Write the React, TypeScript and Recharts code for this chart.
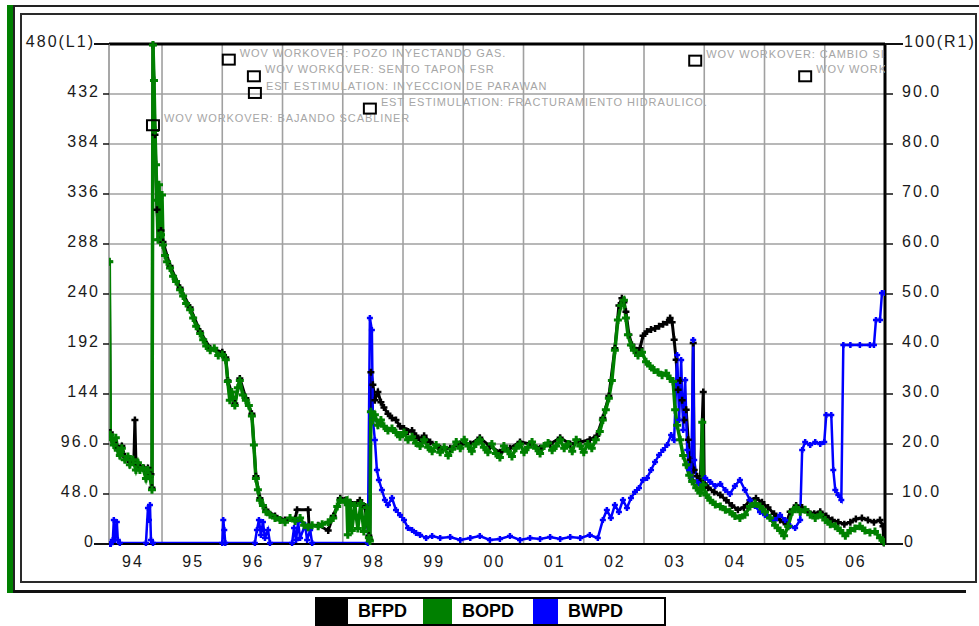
import React from 'react';
import { ComposedChart, Line, Scatter, XAxis, YAxis, CartesianGrid, ReferenceLine } from 'recharts';

type Pt = [number, number];

// time axis: months since Jan 1994
const yearLabels = ['94', '95', '96', '97', '98', '99', '00', '01', '02', '03', '04', '05', '06'];
const yearMid = [6, 18, 30, 42, 54, 66, 78, 90, 102, 114, 126, 138, 150];
const yearBounds = [12, 24, 36, 48, 60, 72, 84, 96, 108, 120, 132, 144];
const leftTicks = [0, 48, 96, 144, 192, 240, 288, 336, 384, 432, 480];
const rightTicks = [0, 10, 20, 30, 40, 50, 60, 70, 80, 90, 100];

// BOPD (left axis)
const bopd: Pt[] = [
  [1.5, 271], [1.7, 105], [2.0, 100], [2.4, 95], [2.8, 102], [3.2, 90], [3.6, 85], [4.0, 92], [4.6, 81], [5.2, 84],
  [5.6, 76], [6.2, 81], [6.8, 71], [7.2, 78], [7.6, 71], [8.2, 73], [8.8, 63], [9.2, 71], [9.6, 65], [10.0, 52],
  [10.2, 479], [10.4, 445], [10.6, 397], [10.8, 364], [11.0, 330], [11.2, 292], [11.4, 345], [11.6, 316], [11.8, 297],
  [12.0, 335], [12.2, 287], [12.6, 277], [13.0, 271], [13.6, 265], [14.2, 257], [14.8, 252], [15.6, 244], [16.2, 238],
  [16.8, 231], [17.6, 225], [18.2, 217], [18.8, 209], [19.6, 202], [20.2, 196], [20.8, 190], [21.6, 186], [22.4, 188],
  [23.2, 181], [24.0, 182], [24.7, 177], [25.1, 156], [25.5, 138], [25.9, 146], [26.5, 133], [27.1, 150], [27.5, 157],
  [28.1, 143], [28.7, 138], [29.3, 133], [29.9, 123], [30.3, 95], [30.7, 63], [31.1, 52], [31.5, 42], [32.1, 37],
  [32.7, 31], [33.5, 28], [34.5, 25], [35.5, 23], [36.5, 21], [37.5, 25], [38.5, 22], [39.5, 25], [40.3, 18],
  [41.1, 16], [41.9, 18], [43.1, 17], [43.9, 19], [45.1, 21], [46.1, 25], [46.9, 36], [47.5, 42], [48.5, 40],
  [48.8, 42], [49.0, 9], [49.5, 39], [49.8, 13], [50.4, 37], [51.0, 15], [51.6, 39], [52.2, 12], [52.8, 35],
  [53.2, 6], [53.4, 3], [53.6, 127], [54.0, 119], [54.4, 124], [55.0, 114], [55.6, 119], [56.2, 113], [57.0, 109],
  [57.8, 111], [58.6, 107], [59.4, 103], [60.2, 107], [61.0, 100], [61.8, 103], [62.6, 97], [63.4, 94], [64.2, 100],
  [65.0, 93], [65.8, 89], [66.6, 95], [67.4, 88], [68.2, 93], [69.0, 85], [69.8, 91], [70.6, 98], [71.4, 92],
  [72.2, 100], [73.0, 94], [73.7, 89], [74.5, 96], [75.3, 100], [76.1, 93], [76.9, 88], [77.7, 96], [78.5, 87],
  [79.3, 83], [80.1, 94], [80.9, 89], [81.7, 84], [82.5, 92], [83.3, 96], [84.1, 88], [84.9, 93], [85.7, 98],
  [86.5, 92], [87.3, 87], [88.1, 94], [88.9, 97], [89.7, 90], [90.5, 94], [91.3, 100], [92.1, 92], [92.9, 96],
  [93.7, 89], [94.5, 100], [95.3, 94], [96.0, 88], [96.8, 96], [97.6, 92], [98.4, 100], [99.2, 108], [99.8, 119],
  [100.4, 129], [101.0, 140], [101.6, 157], [102.2, 186], [102.8, 215], [103.4, 229], [104.0, 234], [104.4, 217],
  [104.8, 201], [105.4, 191], [106.0, 186], [106.8, 181], [107.6, 184], [108.4, 175], [109.2, 171], [110.0, 167],
  [110.8, 165], [111.6, 162], [112.4, 164], [113.2, 159], [113.8, 156], [114.2, 129], [114.6, 114], [115.2, 100],
  [115.8, 85], [116.4, 76], [117.0, 66], [117.6, 60], [118.4, 54], [119.2, 49], [119.4, 52], [119.6, 117],
  [119.8, 57], [120.4, 47], [121.2, 42], [122.2, 38], [123.2, 36], [124.2, 33], [125.1, 31], [126.1, 27],
  [127.1, 25], [128.1, 28], [129.1, 36], [130.1, 39], [131.1, 36], [132.1, 31], [133.1, 25], [134.1, 18],
  [135.1, 13], [135.9, 8], [136.7, 17], [137.5, 31], [138.3, 35], [139.1, 31], [140.1, 33], [141.1, 28],
  [142.1, 25], [143.1, 28], [144.1, 23], [145.1, 19], [146.1, 17], [147.1, 13], [148.1, 8], [149.1, 13],
  [150.0, 15], [151.0, 17], [152.0, 13], [153.0, 11], [154.0, 12], [155.0, 6], [155.8, 2],
];

// BFPD (left axis)
const bfpd: Pt[] = [
  [1.5, 271], [1.7, 107], [2.4, 98], [3.2, 92], [4.0, 94], [4.6, 84], [5.6, 79], [6.4, 81], [6.6, 119], [6.8, 79],
  [7.6, 75], [8.4, 73], [9.2, 73], [9.8, 67], [10.0, 54], [10.2, 479], [10.6, 393], [11.0, 321], [11.4, 292],
  [11.8, 301], [12.2, 290], [13.6, 267], [15.6, 246], [17.6, 227], [19.6, 204], [21.6, 188], [24.0, 184],
  [24.7, 179], [25.1, 157], [26.5, 135], [27.5, 159], [28.7, 140], [29.9, 125], [30.7, 65], [31.5, 44], [32.7, 33],
  [34.5, 27], [36.5, 23], [38.5, 24], [38.9, 33], [41.1, 33], [41.3, 17], [43.1, 18], [45.1, 13], [46.1, 27],
  [47.5, 44], [48.5, 42], [49.5, 40], [50.4, 38], [51.4, 42], [52.4, 36], [53.2, 8], [53.4, 4], [53.6, 165],
  [54.0, 153], [54.4, 138], [55.0, 146], [55.6, 136], [56.2, 131], [57.0, 125], [57.8, 121], [58.6, 119],
  [59.4, 113], [60.2, 111], [61.0, 108], [61.8, 109], [62.6, 104], [63.4, 100], [64.2, 104], [65.4, 98],
  [67.4, 92], [69.4, 92], [71.4, 96], [73.4, 96], [75.3, 102], [77.3, 94], [79.3, 88], [81.3, 92], [83.3, 98],
  [85.3, 96], [87.3, 92], [89.3, 96], [91.3, 102], [93.3, 96], [95.3, 98], [97.2, 100], [98.6, 104], [99.8, 121],
  [101.0, 142], [102.2, 188], [103.0, 229], [103.6, 236], [104.0, 232], [104.4, 223], [105.0, 201], [105.6, 191],
  [106.4, 186], [107.2, 188], [107.8, 200], [108.6, 204], [109.4, 206], [110.2, 207], [111.0, 209], [111.8, 211],
  [112.6, 213], [113.2, 217], [113.6, 213], [114.0, 196], [114.4, 177], [114.8, 148], [115.2, 157], [115.6, 138],
  [116.0, 119], [116.4, 129], [116.8, 100], [117.2, 81], [117.6, 61], [117.8, 193], [118.0, 71], [118.6, 65],
  [119.2, 60], [119.8, 146], [120.0, 58], [120.8, 54], [122.0, 50], [123.2, 47], [124.4, 42], [125.5, 37],
  [126.7, 33], [127.9, 35], [129.1, 42], [130.3, 44], [131.5, 40], [132.7, 35], [133.9, 29], [135.1, 23],
  [136.3, 19], [137.1, 31], [138.3, 37], [139.5, 35], [140.7, 31], [141.9, 29], [143.1, 31], [144.3, 27],
  [145.5, 23], [146.7, 21], [147.9, 19], [149.1, 21], [150.2, 24], [151.4, 25], [152.6, 23], [153.8, 21],
  [155.0, 23], [155.6, 17], [155.8, 1],
];

// BWPD (right axis)
const bwpd: Pt[] = [
  [1.5, 0], [1.8, 0], [2.2, 0.8], [2.4, 4.8], [2.6, 0.8], [3.0, 4.4], [3.2, 0.8], [3.6, 0.2], [8.8, 0.2],
  [9.2, 7.2], [9.4, 4.8], [9.6, 7.8], [9.8, 0.8], [10.2, 0.2], [24.0, 0.2], [24.2, 4.8], [24.4, 2.8], [24.6, 0.2],
  [30.5, 0.2], [30.9, 2.8], [31.3, 4.8], [31.7, 1.8], [32.1, 4.4], [32.5, 1.2], [33.1, 2.8], [33.5, 0.2],
  [37.9, 0.2], [38.3, 3.2], [38.7, 0.8], [39.1, 4.4], [39.5, 1.2], [40.5, 3.8], [40.9, 0.8], [41.5, 2.8],
  [41.9, 0.2], [53.0, 0.2], [53.4, 45.2], [53.8, 42.8], [54.0, 24.8], [54.4, 20.8], [54.8, 14.8], [55.2, 12.8],
  [55.8, 10.8], [56.4, 8.8], [57.0, 7.8], [57.8, 9.2], [58.6, 6.8], [59.4, 5.8], [60.2, 4.8], [61.0, 3.2],
  [61.8, 2.8], [62.6, 2.2], [63.4, 1.8], [64.6, 1.2], [65.8, 1.6], [67.4, 1.2], [69.4, 1.4], [71.4, 0.8],
  [73.4, 1.2], [75.3, 1.6], [77.3, 0.8], [79.3, 1.0], [81.3, 1.6], [83.3, 0.8], [85.3, 1.2], [87.3, 1.0],
  [89.3, 1.4], [91.3, 1.0], [93.3, 1.4], [95.3, 1.2], [97.2, 1.8], [98.8, 1.2], [99.8, 4.8], [100.6, 6.8],
  [101.4, 5.2], [102.2, 7.8], [103.0, 6.4], [103.8, 8.8], [104.6, 7.2], [105.4, 9.2], [106.2, 10.4], [107.0, 11.2],
  [107.8, 12.8], [108.6, 13.2], [109.4, 14.8], [110.2, 16.4], [111.0, 17.8], [111.8, 18.8], [112.6, 19.8],
  [113.4, 21.8], [114.0, 20.8], [114.6, 37.8], [115.0, 24.8], [115.4, 36.8], [115.8, 22.8], [116.2, 32.8],
  [116.6, 18.8], [117.0, 14.8], [117.4, 13.2], [117.8, 40.8], [118.0, 16.8], [118.6, 12.4], [119.2, 11.8],
  [120.2, 13.2], [121.2, 12.4], [122.2, 11.6], [123.2, 12.0], [124.2, 10.8], [125.1, 10.0], [126.1, 11.6],
  [127.1, 12.8], [128.1, 10.8], [129.1, 8.8], [130.1, 7.6], [131.1, 6.4], [132.1, 5.8], [133.1, 5.2],
  [134.1, 4.8], [135.1, 5.8], [136.1, 4.8], [137.1, 3.6], [138.1, 3.2], [139.1, 4.8], [139.5, 18.8],
  [140.1, 20.4], [141.1, 19.8], [142.1, 20.4], [143.1, 20.0], [143.9, 20.4], [144.3, 25.8], [145.3, 25.8],
  [145.7, 14.8], [146.1, 10.8], [146.7, 9.8], [147.3, 8.8], [147.7, 39.8], [149.1, 39.8], [151.0, 39.8],
  [153.0, 39.8], [153.8, 39.8], [154.2, 44.8], [155.0, 44.8], [155.4, 50.2], [156.0, 50.2],
];

// event markers (left axis)
const eventT = [10.2, 25.3, 30.3, 30.5, 53.4, 118.2, 140.1];
const eventV = [402, 465, 449, 433, 418, 464, 449];
const eventLabels = [
  'WOV WORKOVER: BAJANDO SCABLINER',
  'WOV WORKOVER: POZO INYECTANDO GAS.',
  'WOV WORKOVER: SENTO TAPON FSR',
  'EST ESTIMULATION: INYECCION DE PARAWAN',
  'EST ESTIMULATION: FRACTURAMIENTO HIDRAULICO.',
  'WOV WORKOVER: CAMBIO SISTEMA',
  'WOV WORKOVER',
];

const toRows = (pts: Pt[]) => pts.map(([t, v]) => ({ t, v }));
const bopdRows = toRows(bopd);
const bfpdRows = toRows(bfpd);
const bwpdRows = toRows(bwpd);
const eventRows = eventT.map((t, i) => ({ t, v: eventV[i], label: eventLabels[i] }));

const FONT = '"Liberation Sans", Arial, Helvetica, sans-serif';
const GREEN = '#008000';
const BLUE = '#0000ff';
const PLOT_L = 109;
const PLOT_R = 885;

const leftFmt = (v: number) => (v === 480 ? '480(L1)' : v === 0 ? '0' : v < 100 ? v.toFixed(1) : String(v));
const rightFmt = (v: number) => (v === 100 ? '100(R1)' : v === 0 ? '0' : v.toFixed(1));

function LeftTick(props: any) {
  const { y, payload } = props;
  const v = payload.value;
  const edge = v === 0 || v === 480;
  return (
    <g>
      <line x1={edge ? 94 : 103} x2={PLOT_L} y1={y} y2={y} stroke="#111" strokeWidth={edge ? 2 : 1.5} />
      <text x={edge ? 95 : 100} y={y + 3} textAnchor="end" fontFamily={FONT} fontSize={16} letterSpacing={2} fill="#1a1a1a">
        {leftFmt(v)}
      </text>
    </g>
  );
}

function RightTick(props: any) {
  const { y, payload } = props;
  const v = payload.value;
  const edge = v === 0 || v === 100;
  return (
    <g>
      <line x1={PLOT_R} x2={edge ? 903 : 893} y1={y} y2={y} stroke="#111" strokeWidth={edge ? 2 : 1.5} />
      <text x={edge ? 904 : 902} y={y + 3} textAnchor="start" fontFamily={FONT} fontSize={16} letterSpacing={2} fill="#1a1a1a">
        {rightFmt(v)}
      </text>
    </g>
  );
}

function XTick(props: any) {
  const { x, payload, index } = props;
  const i = yearMid.indexOf(payload.value);
  return (
    <text x={x + 1} y={567} textAnchor="middle" fontFamily={FONT} fontSize={16} letterSpacing={2} fill="#1a1a1a">
      {yearLabels[i >= 0 ? i : index]}
    </text>
  );
}

const cross = (color: string, r: number, w: number) => (p: any) => {
  const { cx, cy, index } = p;
  if (cx == null || cy == null || isNaN(cx) || isNaN(cy)) return <g key={`n${index}`} />;
  return (
    <path key={`d${index}`} d={`M${cx - r},${cy}h${2 * r}M${cx},${cy - r}v${2 * r}`} stroke={color} strokeWidth={w} fill="none" />
  );
};

function EventShape(p: any) {
  const { cx, cy, payload } = p;
  return (
    <g>
      <text x={cx + 11} y={cy - 3} fontFamily={FONT} fontSize={11} letterSpacing={0.9} fill="#a6a6a6">
        {payload.label}
      </text>
      <rect x={cx - 6} y={cy - 5} width={12} height={10} fill="none" stroke="#000" strokeWidth={2} />
    </g>
  );
}

const vGen = (args: any) => {
  const s = args?.xAxis?.scale;
  if (!s) return [];
  return yearBounds.map((m) => (typeof s === 'function' ? s(m) : s.map(m)));
};

export default function App() {
  return (
    <div style={{ position: 'absolute', left: 0, top: 0, width: 979, height: 626, background: '#fff', overflow: 'hidden' }}>
      {/* frame */}
      <div style={{ position: 'absolute', left: 7, top: 5, width: 6, height: 588, background: GREEN }} />
      <div style={{ position: 'absolute', left: 13, top: 5, width: 966, height: 2, background: '#222' }} />
      <div style={{ position: 'absolute', left: 13, top: 5, width: 2, height: 588, background: '#222' }} />
      <div style={{ position: 'absolute', left: 13, top: 590, width: 953, height: 3, background: '#111' }} />
      <div
        style={{
          position: 'absolute', left: 20, top: 13, width: 957, height: 570,
          border: '2px solid #2a2a2a', boxSizing: 'border-box',
        }}
      />
      <div style={{ position: 'absolute', left: 0, top: 0 }}>
        <ComposedChart width={979} height={626} margin={{ top: 44, right: 14, bottom: 52, left: 19 }}>
          <CartesianGrid
            yAxisId="L"
            stroke="#a0a0a0"
            strokeWidth={1.6}
            horizontal={true}
            vertical={true}
            verticalCoordinatesGenerator={vGen}
          />
          <XAxis
            dataKey="t"
            type="number"
            domain={[1.44, 156]}
            allowDataOverflow={true}
            ticks={yearMid}
            interval={0}
            tick={<XTick />}
            tickLine={false}
            axisLine={{ stroke: '#000', strokeWidth: 2 }}
            height={30}
          />
          <YAxis
            yAxisId="L"
            orientation="left"
            domain={[0, 480]}
            ticks={leftTicks}
            interval={0}
            tick={<LeftTick />}
            tickLine={false}
            axisLine={{ stroke: '#8a8a8a', strokeWidth: 1.5 }}
            width={90}
          />
          <YAxis
            yAxisId="R"
            orientation="right"
            domain={[0, 100]}
            ticks={rightTicks}
            interval={0}
            tick={<RightTick />}
            tickLine={false}
            axisLine={{ stroke: '#000', strokeWidth: 3 }}
            width={80}
          />
          <Line
            data={bfpdRows}
            dataKey="v"
            yAxisId="L"
            type="linear"
            stroke="#000"
            strokeWidth={3}
            dot={cross('#000', 3.5, 2.5)}
            isAnimationActive={false}
          />
          <Line
            data={bwpdRows}
            dataKey="v"
            yAxisId="R"
            type="linear"
            stroke={BLUE}
            strokeWidth={2.5}
            dot={cross(BLUE, 3, 2.5)}
            isAnimationActive={false}
          />
          <Line
            data={bopdRows}
            dataKey="v"
            yAxisId="L"
            type="linear"
            stroke={GREEN}
            strokeWidth={3.5}
            dot={cross(GREEN, 4, 3)}
            isAnimationActive={false}
          />
          <Scatter data={eventRows} dataKey="v" yAxisId="L" shape={EventShape} isAnimationActive={false} />
          <ReferenceLine y={480} yAxisId="L" stroke="#000" strokeWidth={3} />
        </ComposedChart>
      </div>
      {/* legend */}
      <div
        style={{
          position: 'absolute', left: 315, top: 597, width: 351, height: 29, border: '2px solid #000',
          boxSizing: 'border-box', display: 'flex', background: '#fff', fontFamily: FONT, fontWeight: 'bold',
          fontSize: 18, color: '#000', lineHeight: '25px',
        }}
      >
        <div style={{ width: 31, background: '#000' }} />
        <div style={{ width: 75, paddingLeft: 10, boxSizing: 'border-box' }}>BFPD</div>
        <div style={{ width: 29, background: GREEN }} />
        <div style={{ width: 81, paddingLeft: 10, boxSizing: 'border-box' }}>BOPD</div>
        <div style={{ width: 25, background: BLUE }} />
        <div style={{ flex: 1, paddingLeft: 10, boxSizing: 'border-box' }}>BWPD</div>
      </div>
    </div>
  );
}
